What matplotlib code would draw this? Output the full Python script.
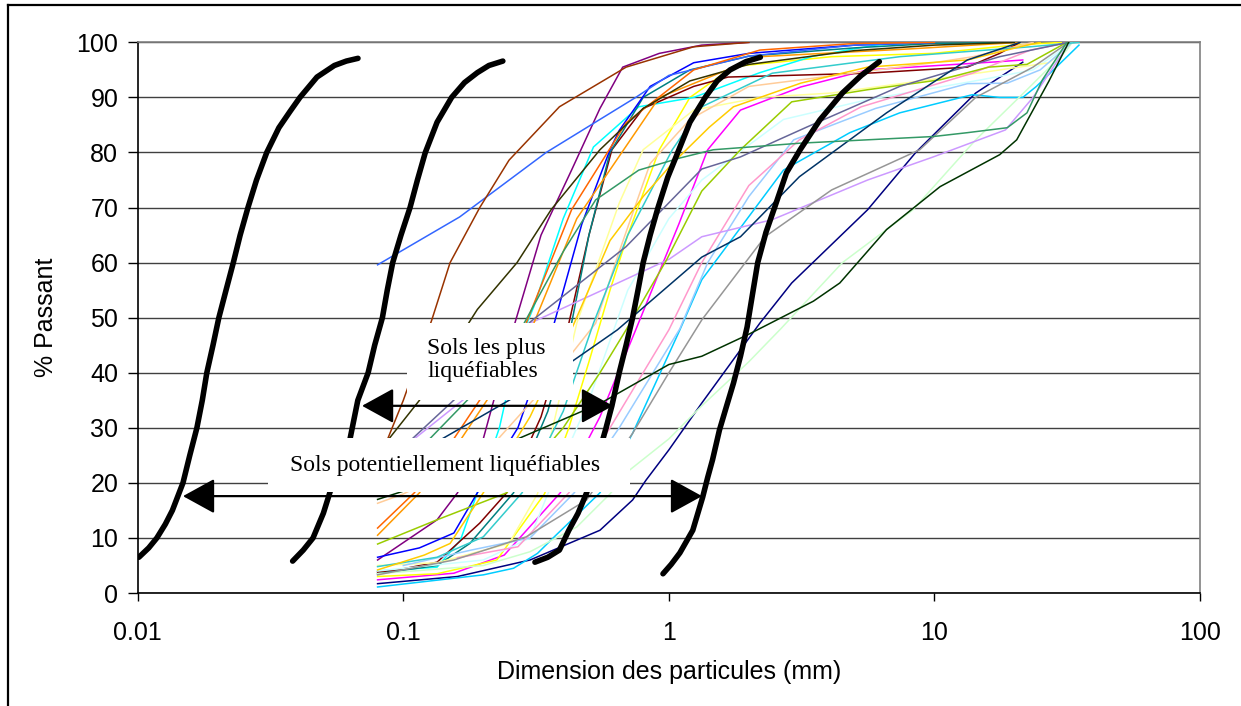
import matplotlib
matplotlib.use("Agg")
from matplotlib import pyplot as plt
from matplotlib.lines import Line2D
from matplotlib.patches import Rectangle

plt.rcParams['font.family'] = ['Liberation Sans', 'DejaVu Sans']

# courbes granulométriques : (dimension mm, % passant)
navy = [(0.08, 1.7), (0.16, 3), (0.3, 6), (0.42, 9), (0.55, 11.4), (0.73, 16.9), (0.82, 20.5), (1.0, 26),
        (1.33, 34.5), (2.2, 49), (2.9, 56.3), (5.6, 69.6), (8.5, 80), (14.3, 90.8), (21.5, 96.4)]
magenta = [(0.08, 2.4), (0.155, 3.6), (0.24, 6.9), (0.39, 18.2), (0.55, 32), (0.75, 47.8), (1.09, 67),
           (1.4, 80.5), (1.86, 87.7), (3.14, 91.9), (5.6, 95), (17.6, 96.5), (21.5, 96.8)]
yellow = [(0.08, 3), (0.134, 3.5), (0.225, 6), (0.34, 18), (0.42, 30), (0.5, 42), (0.6, 55), (0.7, 65),
          (0.92, 80.5), (1.2, 90), (1.75, 95.6), (4.1, 97.4), (9.9, 98), (20, 99.5), (30, 100)]
cyan = [(0.08, 4), (0.134, 4.7), (0.164, 9.6), (0.19, 18.2), (0.23, 30), (0.27, 45), (0.31, 52), (0.4, 68),
        (0.52, 81), (0.77, 88.3), (1.24, 90), (2.2, 94.5), (3.5, 97.5), (6, 99.5), (10, 100)]
purple = [(0.08, 6), (0.134, 13.3), (0.16, 18.2), (0.2, 28), (0.263, 49), (0.33, 65), (0.43, 76.8),
          (0.55, 88), (0.67, 95.5), (0.92, 98), (1.33, 99.5), (2, 100)]
maroon = [(0.08, 3.8), (0.095, 4.2), (0.134, 5.6), (0.194, 12.7), (0.245, 18.2), (0.33, 32), (0.42, 49),
          (0.5, 65), (0.61, 80.5), (0.8, 88), (1.24, 92), (1.67, 93.7), (5.6, 94.4), (13.3, 95.5),
          (17.6, 98), (21, 100)]
teal = [(0.08, 3.5), (0.134, 5), (0.178, 9), (0.26, 18.2), (0.35, 33), (0.43, 49), (0.5, 65), (0.6, 80),
        (0.8, 90), (1.2, 95), (2, 97.5), (5, 99), (10, 99.8), (20, 100)]
blue = [(0.08, 6.5), (0.115, 8.2), (0.155, 10.9), (0.19, 18.2), (0.27, 30), (0.37, 49), (0.47, 67),
        (0.6, 80.5), (0.65, 84), (0.85, 92), (1.24, 96.3), (2, 98), (5, 99.5), (10, 100)]
sky = [(0.08, 1.1), (0.2, 3.3), (0.26, 4.5), (0.32, 7.2), (0.37, 10.2), (0.55, 18.2), (0.73, 29),
       (1.1, 47.8), (1.33, 56.9), (2.7, 76.8), (4.8, 83.6), (7.4, 87.2), (13.9, 90.5), (17.6, 90),
       (21.5, 90), (24.2, 92), (35, 99.5)]
light_cyan = [(0.08, 4), (0.2, 6), (0.3, 10), (0.35, 18), (0.5, 35), (0.7, 55), (1.0, 68), (1.33, 75),
              (2.7, 86), (5.6, 89.6), (15, 93.2), (23.5, 95), (33, 100)]
pale_green = [(0.08, 3.5), (0.2, 5), (0.3, 7.5), (0.45, 12), (0.6, 18), (0.71, 22.3), (1.0, 28),
              (1.33, 34), (2.0, 42), (2.64, 48), (4.5, 60), (8.3, 69.6), (14.3, 82.3), (22.3, 91.4),
              (31.5, 98.6), (33, 100)]
light_yellow = [(0.08, 5), (0.134, 5.5), (0.25, 9), (0.32, 18), (0.45, 49), (0.65, 70.8), (0.8, 80.5),
                (1.24, 87.7), (2.2, 90), (4.1, 90.8), (15, 94.5), (27, 96.3), (33, 100)]
light_blue = [(0.1, 5), (0.18, 7.8), (0.3, 10), (0.44, 18.2), (0.65, 30), (1.1, 48), (1.4, 60), (2.0, 72),
              (2.95, 82.3), (6, 88), (13.3, 92.5), (18.8, 92.6), (25, 95), (33, 100)]
pink = [(0.16, 6.4), (0.27, 8.4), (0.42, 18.2), (0.6, 30), (1.0, 47.8), (1.33, 60), (2.0, 74), (3.1, 82.3),
        (5.3, 88.3), (13.9, 94.4), (23, 98.6), (32, 100)]
lavender = [(0.08, 25), (0.11, 28), (0.2, 38), (0.3, 49), (0.55, 54.8), (1.0, 60.6), (1.33, 64.7),
            (2.45, 67.8), (5.6, 75), (9.9, 79.2), (18.5, 84.1), (23.5, 90), (31.5, 99.2)]
peach = [(0.08, 16.3), (0.1, 18), (0.2, 25), (0.35, 38), (0.53, 49), (0.65, 62), (0.85, 78), (1.2, 86),
         (2.0, 92), (3.14, 93.2), (9.9, 96.3), (14, 97.4), (23.5, 100)]
royal = [(0.08, 59.6), (0.163, 68.3), (0.345, 80), (0.75, 90), (1.0, 94), (2, 97.5), (5, 99.5), (10, 100)]
turquoise = [(0.08, 4.8), (0.134, 6.5), (0.2, 10.2), (0.28, 18.2), (0.4, 33), (0.52, 49), (0.7, 65),
             (1.03, 80.5), (1.33, 88.3), (2.45, 94.4), (7.4, 97.4), (23, 99.2), (35, 100)]
yellowgreen = [(0.08, 8.9), (0.134, 13.3), (0.245, 18.2), (0.4, 30), (0.55, 40), (0.69, 47.8),
               (0.98, 60.5), (1.33, 73), (1.86, 80.5), (2.9, 89.2), (5.6, 91.4), (10.5, 93.2),
               (16, 95.5), (22.3, 96), (31.5, 100)]
gold = [(0.08, 4.2), (0.12, 6.9), (0.15, 9), (0.2, 18.2), (0.3, 32), (0.44, 49), (0.6, 64), (0.8, 72),
        (1.03, 78), (1.42, 84.6), (1.75, 88.3), (3.14, 92.6), (5.6, 95.5), (13.3, 96.8), (21, 99.2), (25, 100)]
orange_red = [(0.08, 11.8), (0.11, 18.2), (0.15, 27), (0.2, 36), (0.29, 49), (0.43, 69.6), (0.69, 85.4),
              (1.24, 95), (2.2, 98.6), (5, 99.8), (10, 100)]
orange = [(0.08, 10.5), (0.115, 18.2), (0.16, 27), (0.22, 37), (0.31, 49), (0.45, 68), (0.92, 90),
          (2.2, 97.4), (8, 98.8), (21, 100)]
slate = [(0.08, 24), (0.108, 28), (0.2, 40), (0.3, 49.2), (0.69, 62.9), (1.33, 77), (1.86, 79.2),
         (3.3, 84.6), (7.4, 92), (17.6, 97.4), (32, 100)]
gray = [(0.08, 3.3), (0.155, 6), (0.29, 10.2), (0.49, 16.9), (0.73, 29), (1.0, 40), (1.33, 49.6),
        (2.3, 64.7), (4.1, 73.2), (8.8, 80.5), (14.3, 90), (23.5, 95.5), (32, 100)]
navy_teal = [(0.08, 22), (0.14, 28), (0.25, 35), (0.43, 42), (0.64, 47.8), (1.33, 61), (1.86, 64.7),
             (3.1, 75.6), (6.6, 87.2), (13.3, 96.8), (21, 100)]
seagreen = [(0.08, 21), (0.12, 27), (0.2, 38), (0.285, 49), (0.4, 62), (0.53, 71.4), (0.77, 76.8),
            (1.1, 79), (1.47, 80.5), (3.14, 81.7), (9.9, 82.9), (13.3, 83.6), (18.8, 84.5), (22.3, 87.2),
            (25.5, 93.2), (31.5, 100)]
dark_green = [(0.08, 17), (0.1, 18.5), (0.27, 28), (0.55, 34.4), (1.0, 41.5), (1.33, 43), (2.0, 47),
              (3.5, 53), (4.4, 56.3), (6.6, 66), (10.5, 73.8), (17.6, 79.6), (20.4, 82.3), (27, 93), (32, 100)]
olive = [(0.085, 27), (0.115, 35), (0.19, 51.5), (0.268, 60), (0.36, 69.6), (0.55, 80.5), (0.8, 88),
         (1.2, 93), (2, 96), (5, 98.5), (10, 99.5), (20, 100)]
brown = [(0.087, 27.8), (0.1, 35), (0.128, 49.6), (0.15, 60), (0.194, 70), (0.25, 78.6), (0.387, 88.3),
         (0.69, 95.5), (1.24, 99.2), (2, 100)]

# fuseaux (courbes limites en noir)
limite_1 = [(0.0101, 6.5), (0.011, 8.2), (0.0118, 10), (0.0127, 12.5), (0.0135, 15), (0.0148, 20),
            (0.0157, 25), (0.0167, 30), (0.0175, 35), (0.0182, 40), (0.0192, 45), (0.0202, 50),
            (0.0215, 55), (0.0229, 60), (0.0243, 65), (0.026, 70), (0.028, 75), (0.0306, 80),
            (0.034, 84.5), (0.0375, 87.5), (0.0408, 90), (0.0473, 93.7), (0.055, 95.8), (0.061, 96.6),
            (0.0675, 97.1)]
limite_2 = [(0.0383, 5.8), (0.042, 7.8), (0.0457, 10), (0.05, 14.5), (0.0543, 20), (0.0585, 24),
            (0.0624, 27), (0.0674, 35), (0.0737, 40), (0.078, 45), (0.0834, 50), (0.087, 55),
            (0.0912, 60), (0.098, 65), (0.106, 70), (0.113, 75), (0.121, 80), (0.134, 85.5),
            (0.152, 90), (0.17, 92.7), (0.19, 94.5), (0.21, 95.8), (0.237, 96.6)]
limite_3 = [(0.313, 5.6), (0.35, 6.5), (0.387, 7.8), (0.42, 11.4), (0.455, 14.5), (0.49, 18.2),
            (0.535, 24), (0.58, 30), (0.61, 34), (0.65, 40), (0.69, 45), (0.73, 50), (0.765, 55),
            (0.80, 60), (0.85, 65), (0.91, 70), (0.99, 75.5), (1.08, 80), (1.2, 85.5), (1.37, 90),
            (1.52, 93), (1.7, 95), (1.95, 96.5), (2.21, 97.3)]
limite_4 = [(0.95, 3.5), (1.02, 5.2), (1.1, 7.3), (1.23, 11.4), (1.34, 17.4), (1.4, 21), (1.46, 24.2),
            (1.55, 29.6), (1.65, 34), (1.75, 38.1), (1.86, 43), (1.97, 48.3), (2.06, 54), (2.16, 60),
            (2.32, 65.5), (2.5, 70), (2.77, 76.3), (3.12, 80.5), (3.7, 85.9), (4.5, 90.8), (5.3, 94),
            (6.2, 96.5)]

series = [
    (navy, '#000080'), (magenta, '#FF00FF'), (yellow, '#FFFF00'), (cyan, '#00FFFF'),
    (purple, '#800080'), (maroon, '#800000'), (teal, '#008080'), (blue, '#0000FF'),
    (sky, '#00CCFF'), (light_cyan, '#CCFFFF'), (pale_green, '#CCFFCC'), (light_yellow, '#FFFF99'),
    (light_blue, '#99CCFF'), (pink, '#FF99CC'), (lavender, '#CC99FF'), (peach, '#FFCC99'),
    (royal, '#3366FF'), (turquoise, '#33CCCC'), (yellowgreen, '#99CC00'), (gold, '#FFCC00'),
    (orange, '#FF9900'), (orange_red, '#FF6600'), (slate, '#666699'), (gray, '#969696'),
    (navy_teal, '#003366'), (seagreen, '#339966'), (dark_green, '#003300'), (olive, '#333300'),
    (brown, '#993300'),
]
limites = [limite_1, limite_2, limite_3, limite_4]

fig = plt.figure(figsize=(12.41, 7.06), dpi=100)
ax = fig.add_axes([0.111, 0.160, 0.856, 0.780])

for pts, col in series:
    xs = [p[0] for p in pts]
    ys = [p[1] for p in pts]
    ax.plot(xs, ys, color=col, lw=1.1, zorder=3)

for pts in limites:
    xs = [p[0] for p in pts]
    ys = [p[1] for p in pts]
    ax.plot(xs, ys, color='black', lw=4, solid_capstyle='round', solid_joinstyle='round', zorder=4)

ax.set_xscale('log')
ax.set_xlim(0.01, 100)
ax.set_ylim(0, 100)
ax.set_xticks([0.01, 0.1, 1, 10, 100])
ax.set_xticklabels(['0.01', '0.1', '1', '10', '100'])
ax.set_yticks(range(0, 101, 10))
ax.minorticks_off()
ax.yaxis.grid(True, color='#404040', lw=1.0, zorder=1)
ax.set_axisbelow(True)
ax.tick_params(axis='x', direction='out', length=6, width=1, labelsize=18, pad=14)
ax.tick_params(axis='y', direction='out', length=7, width=1, labelsize=18, pad=7)
ax.spines['left'].set_color('black')
ax.spines['bottom'].set_color('black')
ax.spines['top'].set_color('#808080')
ax.spines['right'].set_color('#808080')
for s in ax.spines.values():
    s.set_linewidth(1.2)

ax.set_xlabel('Dimension des particules (mm)', fontsize=18, labelpad=11)
ax.set_ylabel('% Passant', fontsize=18, labelpad=13)

# cadres blancs des étiquettes
ax.add_patch(Rectangle((0.1035, 35.1), 0.435 - 0.1035, 49.0 - 35.1, facecolor='white',
                       edgecolor='none', zorder=5))
ax.add_patch(Rectangle((0.031, 18.35), 0.713 - 0.031, 28.2 - 18.35, facecolor='white',
                       edgecolor='none', zorder=5))
ax.text(0.1228, 42.3, 'Sols les plus\nliquéfiables', family='Liberation Serif', fontsize=17,
        ha='left', va='center', linespacing=1.15, zorder=6)
ax.text(0.1442, 23.25, 'Sols potentiellement liquéfiables', family='Liberation Serif', fontsize=17,
        ha='center', va='center', zorder=6)

arrow = dict(arrowstyle='<|-|>,head_length=1.0,head_width=0.55', color='black', lw=1.6,
             mutation_scale=20, shrinkA=0, shrinkB=0)
ax.annotate('', xy=(0.616, 34), xytext=(0.0699, 34), arrowprops=arrow, zorder=7)
ax.annotate('', xy=(1.333, 17.6), xytext=(0.0148, 17.6), arrowprops=arrow, zorder=7)

# cadre extérieur
fig.add_artist(Line2D([8 / 1241, 1], [1 - 5 / 706, 1 - 5 / 706], color='black', lw=1.6))
fig.add_artist(Line2D([8 / 1241, 8 / 1241], [0, 1 - 5 / 706], color='black', lw=1.6))

fig.savefig('out.png', dpi=100)
